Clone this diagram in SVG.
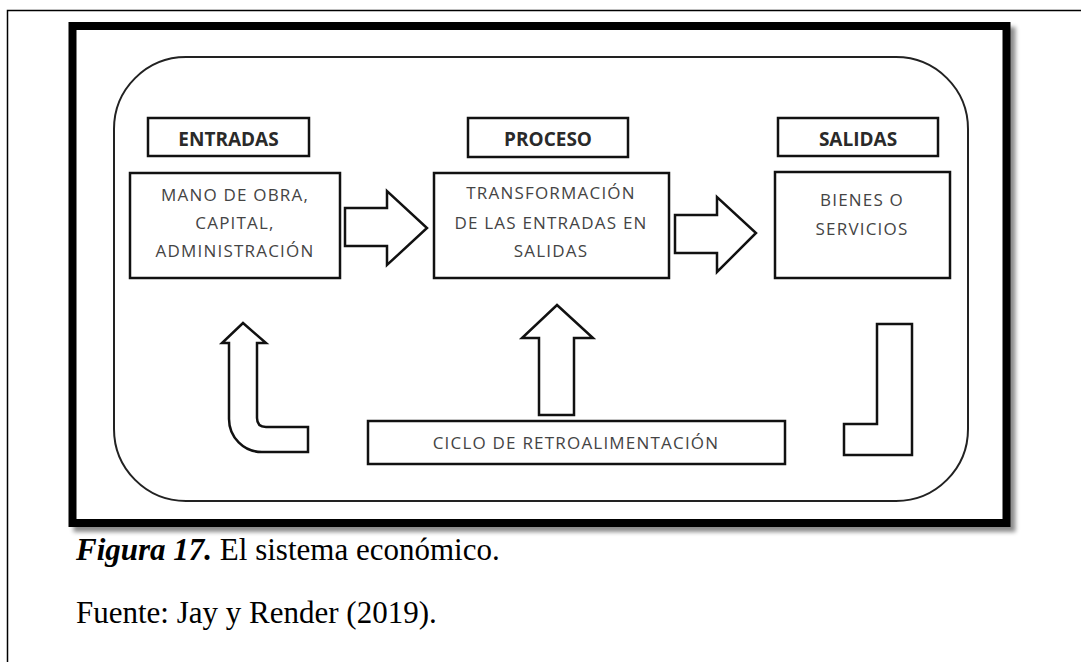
<svg xmlns="http://www.w3.org/2000/svg" width="1081" height="662" viewBox="0 0 1081 662">
<defs>
<filter id="sh" x="-5%" y="-5%" width="115%" height="115%">
<feDropShadow dx="5" dy="5" stdDeviation="2" flood-color="#000" flood-opacity="0.45"/>
</filter>
<style>
.box{fill:#fff;stroke:#111;stroke-width:2.5}
.arr{fill:#fff;stroke:#111;stroke-width:2.5;stroke-linejoin:miter}
.hd{font-family:"Open Sans","Liberation Sans",sans-serif;font-weight:bold;font-size:19px;fill:#2a2a2a;text-anchor:middle}
.tx{font-family:"Open Sans","Liberation Sans",sans-serif;font-weight:500;font-size:17px;fill:#444;text-anchor:middle;letter-spacing:1.2px}
.cap{font-family:"Liberation Serif","Times New Roman",serif;font-size:31px;fill:#000}
</style>
</defs>
<rect width="1081" height="662" fill="#fff"/>
<path d="M7.5,662 V10.5 H1081" fill="none" stroke="#000" stroke-width="1.5"/>
<g id="frame">
<rect x="72.5" y="26" width="934" height="497" fill="#fff" stroke="#000" stroke-width="8" filter="url(#sh)"/>
<rect x="114" y="57" width="854" height="444" rx="72" ry="72" fill="none" stroke="#222" stroke-width="2"/>
</g>
<g id="entradas">
<rect class="box" x="148" y="118" width="161" height="38"/>
<text class="hd" x="228.5" y="146">ENTRADAS</text>
<rect class="box" x="130" y="173" width="210" height="105"/>
<text class="tx" x="235" y="201">MANO DE OBRA,</text>
<text class="tx" x="235" y="229">CAPITAL,</text>
<text class="tx" x="235" y="257">ADMINISTRACIÓN</text>
</g>
<g id="proceso">
<rect class="box" x="468" y="118" width="160" height="39"/>
<text class="hd" x="548" y="146">PROCESO</text>
<rect class="box" x="434" y="173" width="235" height="105"/>
<text class="tx" x="551" y="199">TRANSFORMACIÓN</text>
<text class="tx" x="551" y="229">DE LAS ENTRADAS EN</text>
<text class="tx" x="551" y="257">SALIDAS</text>
</g>
<g id="salidas">
<rect class="box" x="778" y="118" width="160" height="38"/>
<text class="hd" x="858" y="146">SALIDAS</text>
<rect class="box" x="775" y="172" width="175" height="106"/>
<text class="tx" x="862" y="206">BIENES O</text>
<text class="tx" x="862" y="235">SERVICIOS</text>
</g>
<g id="ciclo">
<rect class="box" x="368" y="421" width="417" height="43"/>
<text class="tx" x="576" y="449">CICLO DE RETROALIMENTACIÓN</text>
</g>
<g id="connectors">
<path class="arr" d="M345,208 H387 V191 L427,228 L387,265 V246 H345 Z"/>
<path class="arr" d="M675,215 H717 V197 L756,233 L717,272 V253 H675 Z"/>
<path class="arr" d="M243,323 L266,343 H257 V418 Q257,427 266,427 H308 V452 H262 A33,33 0 0 1 229,419 V343 H222 Z"/>
<path class="arr" d="M557,305 L593,338 H574 V415 H539 V338 H522 Z"/>
<path class="arr" d="M877,324 H912 V455 H844 V424 H877 Z"/>
</g>
<g id="caption">
<text class="cap" x="76" y="560"><tspan font-weight="bold" font-style="italic">Figura 17.</tspan> El sistema económico.</text>
<text class="cap" x="76" y="623">Fuente: Jay y Render (2019).</text>
</g>
</svg>
